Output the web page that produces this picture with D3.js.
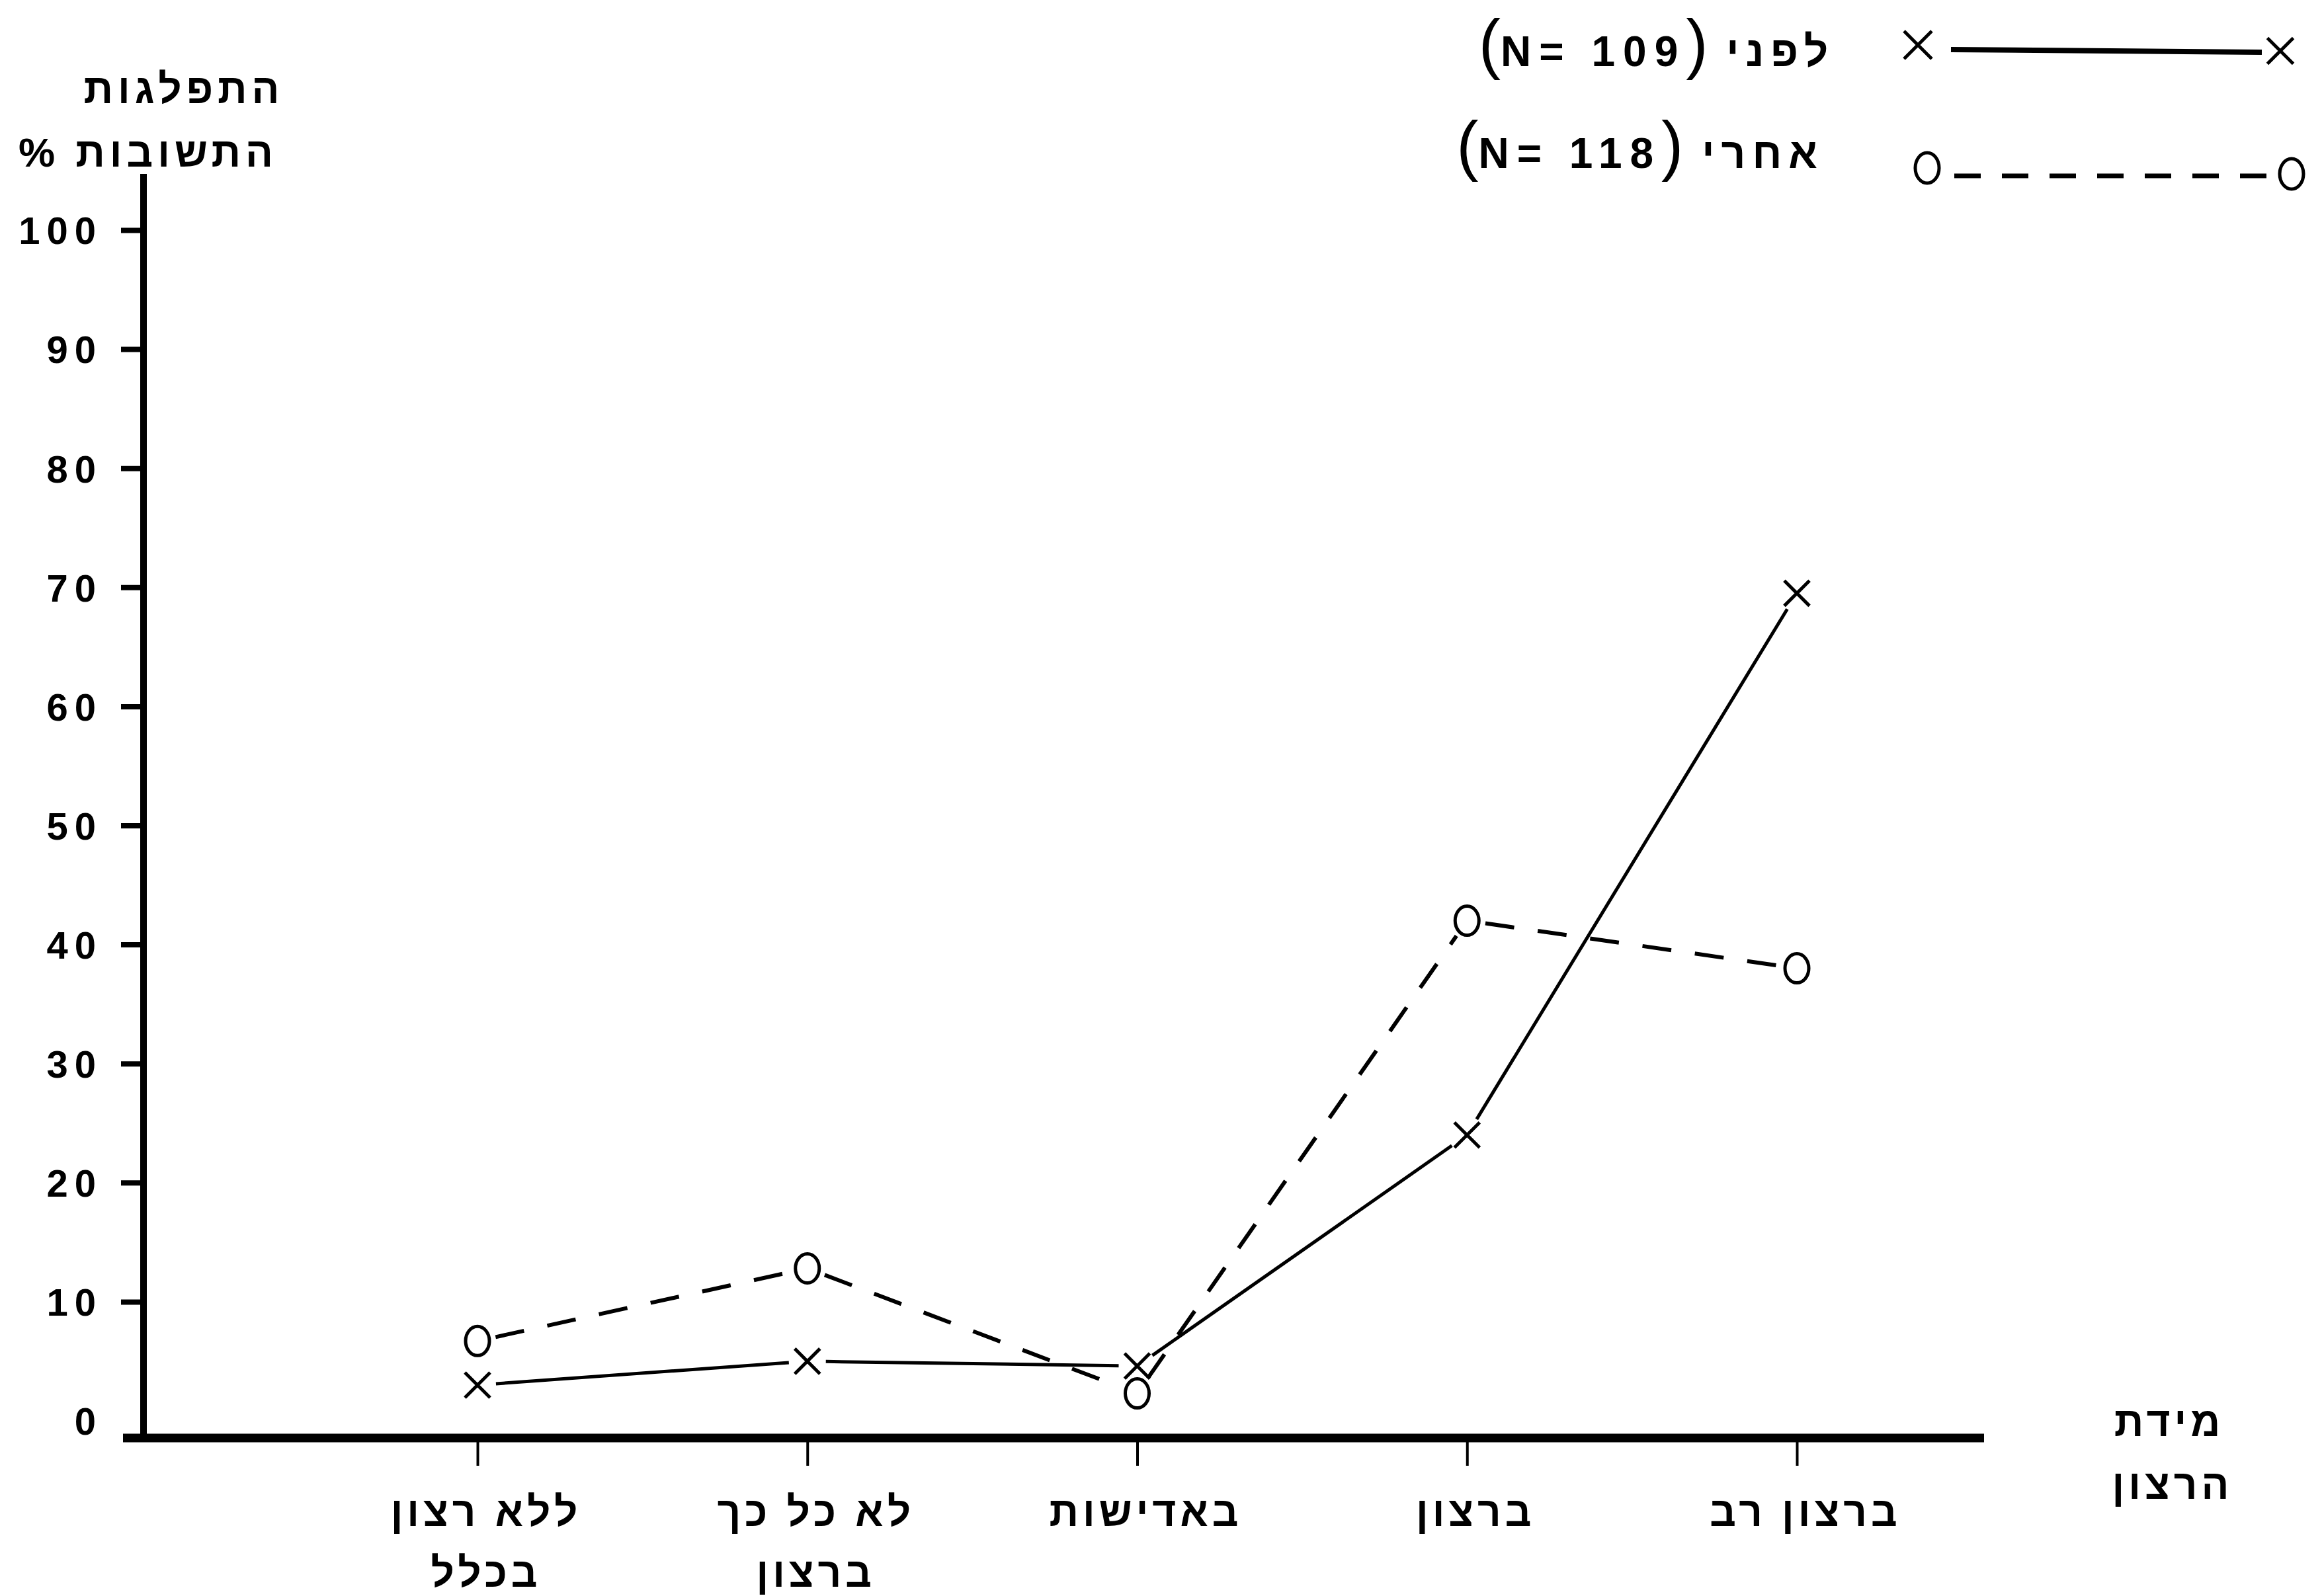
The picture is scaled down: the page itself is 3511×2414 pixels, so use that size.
<!DOCTYPE html>
<html><head><meta charset="utf-8">
<script src="https://cdn.jsdelivr.net/npm/d3@7"></script>
<style>html,body{margin:0;padding:0;background:#fff;}</style>
</head><body>
<svg id="c" width="3511" height="2414" xmlns="http://www.w3.org/2000/svg"></svg>
<script>
// ---- data ----
const catKeys = ["none", "notMuch", "indifferent", "willing", "veryWilling"];
const catLabels = [["ללא רצון", "בכלל"], ["לא כל כך", "ברצון"], ["באדישות"], ["ברצון"], ["ברצון רב"]];
const beforeValues = [3, 5, 4.6, 24, 69.5];   // לפני (N=109), solid, ×
const afterValues  = [6.7, 12.8, 2.3, 42, 38]; // אחרי (N=118), dashed, o
const yTicks = [0, 10, 20, 30, 40, 50, 60, 70, 80, 90, 100];
const seriesNames = ["לפני", "אחרי"];
const seriesN = [109, 118];
const yTitle = ["התפלגות", "התשובות %"];
const xTitle = ["מידת", "הרצון"];

// ---- setup ----
const svg = d3.select("#c");
svg.append("rect").attr("width", 3511).attr("height", 2414).attr("fill", "#fff");
const FONT = "'Liberation Sans','DejaVu Sans',Arial,sans-serif";

const x = d3.scalePoint().domain(catKeys).range([722, 2717]);
const y = d3.scaleLinear().domain([0, 100]).range([2149, 348]);
const axisLineY = y(0) + 26;
const axisX = 217;

// ---- y axis ----
const gy = svg.append("g").attr("transform", `translate(${axisX},0)`)
  .call(d3.axisLeft(y).tickValues(yTicks).tickSize(34).tickSizeOuter(0).tickPadding(28));
gy.select(".domain").remove();
gy.selectAll(".tick line").attr("stroke", "#000").attr("stroke-width", 8)
  .filter(d => d === 0).remove();
gy.selectAll(".tick text").attr("font-family", FONT).attr("font-size", 58)
  .attr("font-weight", "bold").attr("letter-spacing", 10).attr("fill", "#000")
  .attr("dy", "0.36em");
svg.append("line").attr("x1", axisX).attr("x2", axisX).attr("y1", 263).attr("y2", axisLineY)
  .attr("stroke", "#000").attr("stroke-width", 10);

// ---- x axis ----
const gx = svg.append("g").attr("transform", `translate(0,${axisLineY})`)
  .call(d3.axisBottom(x).tickSize(42).tickSizeOuter(0).tickFormat(""));
gx.select(".domain").remove();
gx.selectAll(".tick line").attr("stroke", "#000").attr("stroke-width", 4);
svg.append("line").attr("x1", 186).attr("x2", 3000).attr("y1", axisLineY).attr("y2", axisLineY)
  .attr("stroke", "#000").attr("stroke-width", 13);

// category labels
catKeys.forEach((k, i) => {
  catLabels[i].forEach((t, j) => {
    svg.append("text").attr("x", x(k) + 13).attr("y", 2308 + j * 92)
      .attr("direction", "rtl").attr("text-anchor", "middle")
      .attr("font-family", FONT).attr("font-size", 62).attr("font-weight", "bold")
      .attr("letter-spacing", 6).attr("fill", "#000").text(t);
  });
});

// axis titles
yTitle.forEach((t, j) => {
  svg.append("text").attr("x", j === 0 ? 278 : 224).attr("y", 156 + j * 96)
    .attr("direction", "rtl").attr("text-anchor", "middle")
    .attr("font-family", FONT).attr("font-size", 62).attr("font-weight", "bold")
    .attr("letter-spacing", 7).attr("fill", "#000").text(t);
});
xTitle.forEach((t, j) => {
  svg.append("text").attr("x", j === 0 ? 3280 : 3285).attr("y", 2172 + j * 95)
    .attr("direction", "rtl").attr("text-anchor", "middle")
    .attr("font-family", FONT).attr("font-size", 62).attr("font-weight", "bold")
    .attr("letter-spacing", 6).attr("fill", "#000").text(t);
});

// ---- series ----
const timesPath = (size) => d3.symbol(d3.symbolTimes).size(size)();

function drawSeries(vals, dashed, marker) {
  const pts = vals.map((v, i) => [x(catKeys[i]), y(v)]);
  const gap = 28;
  for (let i = 0; i < pts.length - 1; i++) {
    const a = pts[i], b = pts[i + 1];
    const dx = b[0] - a[0], dy = b[1] - a[1], L = Math.hypot(dx, dy);
    const ux = dx / L, uy = dy / L;
    const seg = [[a[0] + ux * gap, a[1] + uy * gap], [b[0] - ux * gap, b[1] - uy * gap]];
    svg.append("path").attr("d", d3.line()(seg)).attr("fill", "none")
      .attr("stroke", "#000").attr("stroke-width", dashed ? 6 : 5)
      .attr("stroke-dasharray", dashed ? "44,36" : null);
  }
  pts.forEach(p => {
    if (marker === "x") {
      svg.append("path").attr("d", timesPath(950)).attr("transform", `translate(${p[0]},${p[1]})`)
        .attr("fill", "none").attr("stroke", "#000").attr("stroke-width", 5);
    } else {
      svg.append("ellipse").attr("cx", p[0]).attr("cy", p[1]).attr("rx", 18).attr("ry", 22)
        .attr("fill", "none").attr("stroke", "#000").attr("stroke-width", 5);
    }
  });
}
drawSeries(beforeValues, false, "x");
drawSeries(afterValues, true, "o");

// ---- legend ----
function legendText(i, cx, by) {
  const t = svg.append("text").attr("x", cx).attr("y", by)
    .attr("direction", "rtl").attr("text-anchor", "middle")
    .attr("font-family", FONT).attr("font-size", 64).attr("font-weight", "bold").attr("fill", "#000");
  t.append("tspan").attr("letter-spacing", 10).text(seriesNames[i] + "  ");
  t.append("tspan").attr("font-size", 100).attr("font-weight", "normal").text("(");
  t.append("tspan").attr("letter-spacing", 12).text("N= " + seriesN[i]);
  t.append("tspan").attr("font-size", 100).attr("font-weight", "normal").text(")");
}
legendText(0, 2505, 100);
legendText(1, 2480, 254);

// legend symbols
svg.append("path").attr("d", timesPath(1150)).attr("transform", "translate(2900,68)")
  .attr("fill", "none").attr("stroke", "#000").attr("stroke-width", 5);
svg.append("path").attr("d", timesPath(1000)).attr("transform", "translate(3448,77)")
  .attr("fill", "none").attr("stroke", "#000").attr("stroke-width", 5);
svg.append("line").attr("x1", 2950).attr("x2", 3420).attr("y1", 75).attr("y2", 79)
  .attr("stroke", "#000").attr("stroke-width", 8);

svg.append("ellipse").attr("cx", 2914).attr("cy", 254).attr("rx", 18).attr("ry", 23)
  .attr("fill", "none").attr("stroke", "#000").attr("stroke-width", 5);
svg.append("ellipse").attr("cx", 3465).attr("cy", 263).attr("rx", 18).attr("ry", 23)
  .attr("fill", "none").attr("stroke", "#000").attr("stroke-width", 5);
svg.append("line").attr("x1", 2955).attr("x2", 3435).attr("y1", 266).attr("y2", 266)
  .attr("stroke", "#000").attr("stroke-width", 7).attr("stroke-dasharray", "40,32");
</script>
</body></html>
